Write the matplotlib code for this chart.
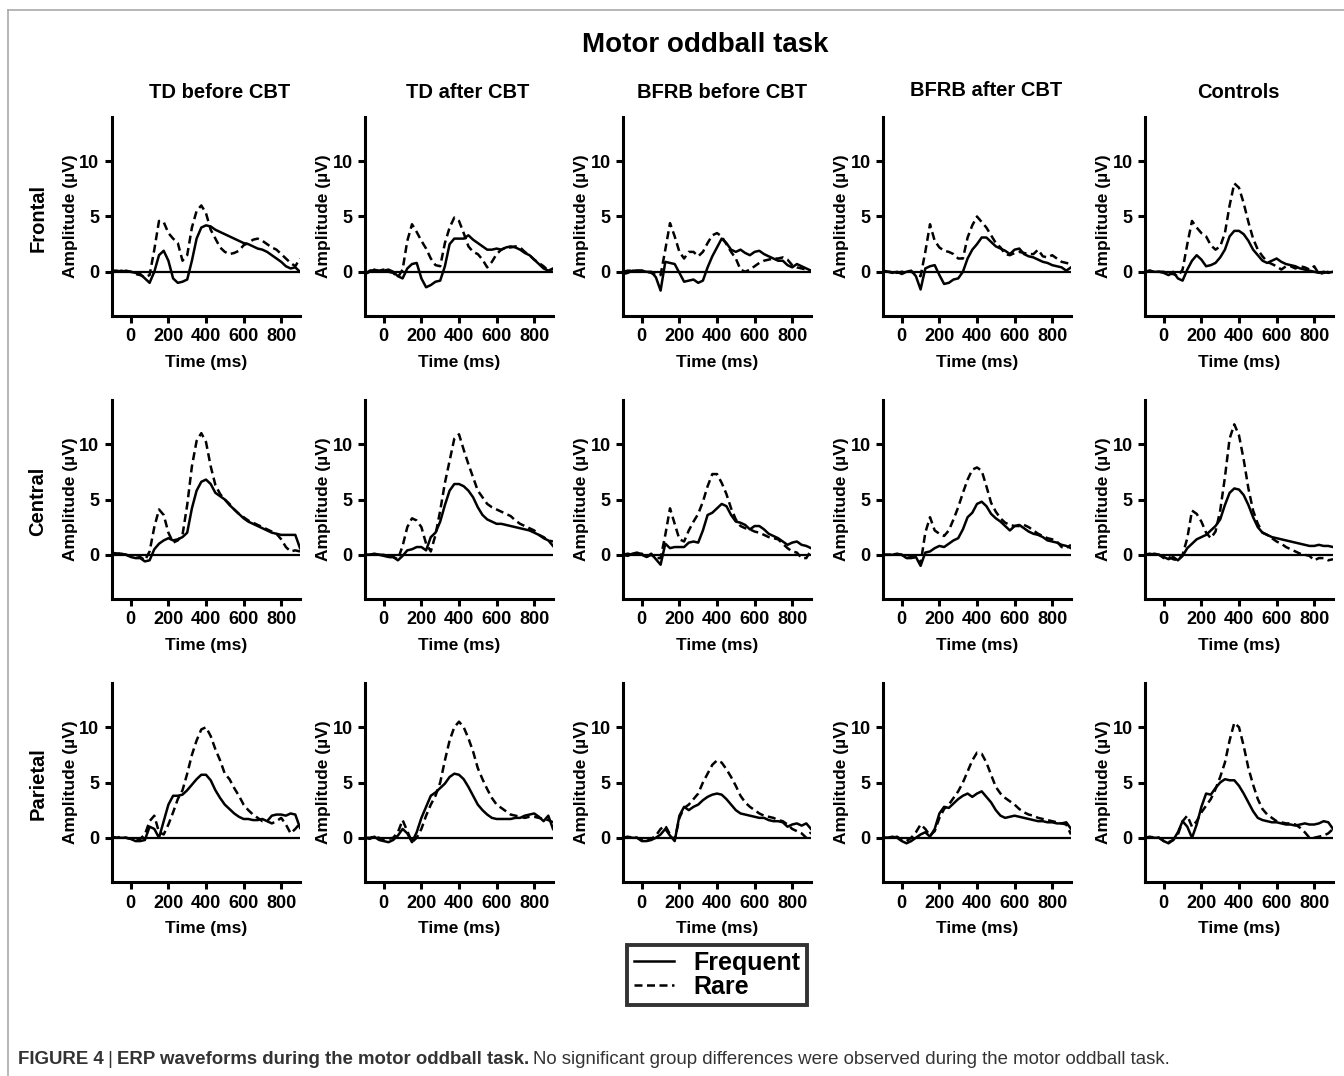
import numpy as np
import matplotlib
matplotlib.use('Agg')
import matplotlib.pyplot as plt
from matplotlib.lines import Line2D

plt.rcParams['font.family'] = ['Liberation Sans', 'DejaVu Sans']

#######################################
#      data        #
#######################################
time_ms = np.arange(-100, 901, 25)

groups = ['TD before CBT', 'TD after CBT', 'BFRB before CBT', 'BFRB after CBT', 'Controls']
sites = ['Frontal', 'Central', 'Parietal']

# frontal
frontal_td_pre_freq = [0.1, 0.0, 0.1, 0.0, 0.0, -0.1, -0.2, -0.6, -1.0, 0.0, 1.5, 1.9, 1.0, -0.6, -1.0, -0.9, -0.7, 1.0, 3.0, 4.0, 4.2, 4.1, 3.8, 3.6, 3.4, 3.2, 3.0, 2.8, 2.6, 2.5, 2.3, 2.1, 2.0, 1.8, 1.5, 1.2, 0.9, 0.5, 0.3, 0.4, 0.0]
frontal_td_pre_rare = [0.1, 0.1, 0.0, 0.1, 0.0, -0.2, -0.3, -0.5, -0.3, 2.0, 4.6, 4.5, 3.5, 3.0, 2.6, 1.0, 1.5, 4.0, 5.5, 6.0, 5.3, 3.8, 3.0, 2.2, 1.8, 1.6, 1.7, 1.9, 2.4, 2.6, 2.9, 3.0, 2.8, 2.5, 2.2, 2.0, 1.6, 1.2, 0.8, 0.5, 1.2]
frontal_td_post_freq = [-0.2, 0.0, 0.2, 0.0, 0.1, 0.2, 0.0, -0.4, -0.6, 0.3, 0.7, 0.8, -0.6, -1.4, -1.2, -0.9, -0.8, 0.5, 2.5, 3.0, 3.0, 3.0, 3.3, 2.9, 2.6, 2.3, 2.0, 2.0, 2.1, 2.0, 2.2, 2.3, 2.2, 2.0, 1.7, 1.5, 1.1, 0.7, 0.3, 0.1, 0.3]
frontal_td_post_rare = [-0.2, 0.1, 0.2, 0.1, 0.2, 0.0, -0.1, -0.5, 0.2, 2.8, 4.3, 3.6, 2.8, 2.1, 1.2, 0.6, 0.5, 2.6, 4.0, 4.9, 4.6, 3.5, 2.3, 1.8, 1.6, 1.1, 0.4, 0.9, 1.6, 2.0, 2.2, 2.2, 2.3, 2.2, 1.8, 1.5, 1.1, 0.8, 0.5, 0.1, 0.0]
frontal_bfrb_pre_freq = [-0.2, -0.1, 0.1, 0.1, 0.1, 0.0, 0.0, -0.5, -1.7, 0.9, 0.8, 0.7, -0.1, -0.9, -0.8, -0.7, -1.0, -0.8, 0.4, 1.4, 2.2, 3.0, 2.6, 2.0, 1.8, 2.0, 1.7, 1.5, 1.8, 1.9, 1.6, 1.4, 1.2, 1.0, 1.0, 0.6, 0.4, 0.7, 0.5, 0.3, 0.1]
frontal_bfrb_pre_rare = [0.0, 0.1, 0.1, 0.1, 0.1, 0.0, -0.1, -0.3, -0.3, 2.0, 4.4, 3.2, 1.8, 1.2, 1.8, 1.8, 1.4, 1.8, 2.6, 3.3, 3.5, 3.2, 2.5, 1.8, 1.2, 0.2, 0.0, 0.2, 0.5, 0.8, 1.0, 1.1, 1.2, 1.2, 1.3, 1.1, 0.6, 0.4, 0.3, 0.2, 0.1]
frontal_bfrb_post_freq = [0.1, 0.0, -0.1, 0.0, -0.2, 0.0, 0.1, -0.4, -1.6, 0.3, 0.5, 0.6, -0.3, -1.1, -1.0, -0.7, -0.6, 0.0, 1.2, 2.0, 2.5, 3.1, 3.1, 2.7, 2.3, 2.1, 1.9, 1.6, 2.0, 2.1, 1.6, 1.4, 1.3, 1.1, 0.9, 0.8, 0.6, 0.5, 0.4, 0.1, 0.4]
frontal_bfrb_post_rare = [0.1, 0.0, 0.0, -0.1, 0.0, 0.0, 0.0, -0.2, -0.4, 1.8, 4.3, 2.8, 2.2, 1.9, 1.8, 1.6, 1.2, 1.2, 3.1, 4.2, 5.0, 4.5, 4.0, 3.3, 2.6, 2.2, 1.6, 1.5, 1.7, 1.8, 1.7, 1.6, 1.6, 2.0, 1.4, 1.3, 1.5, 1.2, 0.9, 0.8, 0.7]
frontal_ctrl_freq = [0.0, 0.1, 0.0, 0.0, -0.1, -0.3, 0.0, -0.6, -0.8, 0.2, 1.0, 1.5, 1.1, 0.5, 0.6, 0.8, 1.3, 2.0, 3.2, 3.7, 3.7, 3.4, 2.8, 2.0, 1.5, 1.0, 0.8, 1.0, 1.2, 0.9, 0.7, 0.6, 0.5, 0.3, 0.2, 0.1, 0.0, -0.1, 0.0, -0.1, 0.0]
frontal_ctrl_rare = [0.0, 0.1, 0.0, 0.0, 0.0, -0.2, -0.2, -0.4, 0.2, 2.5, 4.6, 4.0, 3.5, 3.2, 2.4, 2.0, 2.3, 3.5, 6.0, 8.0, 7.6, 6.2, 4.5, 3.0, 2.0, 1.4, 0.9, 0.7, 0.5, 0.2, 0.5, 0.5, 0.3, 0.5, 0.4, 0.2, 0.5, -0.2, -0.1, 0.0, 0.0]

# central
central_td_pre_freq = [0.2, 0.1, 0.1, 0.0, -0.2, -0.3, -0.3, -0.6, -0.5, 0.5, 1.0, 1.3, 1.5, 1.3, 1.4, 1.6, 2.0, 4.2, 5.8, 6.6, 6.8, 6.4, 5.6, 5.3, 5.0, 4.5, 4.1, 3.7, 3.3, 3.0, 2.8, 2.6, 2.4, 2.2, 2.0, 1.9, 1.8, 1.8, 1.8, 1.8, 0.6]
central_td_pre_rare = [0.1, 0.1, 0.1, 0.0, -0.1, -0.3, -0.2, -0.5, 0.3, 2.5, 4.1, 3.6, 2.0, 1.1, 1.3, 1.8, 4.5, 8.0, 10.3, 11.0, 10.2, 8.0, 6.3, 5.5, 5.0, 4.6, 4.1, 3.7, 3.4, 3.1, 2.9, 2.7, 2.5, 2.3, 2.1, 1.9, 1.4, 0.7, 0.3, 0.4, 0.3]
central_td_post_freq = [0.0, 0.0, 0.1, 0.0, -0.1, -0.2, -0.2, -0.5, -0.1, 0.4, 0.5, 0.7, 0.7, 0.4, 1.6, 2.0, 3.0, 4.5, 5.8, 6.4, 6.4, 6.2, 5.8, 5.2, 4.3, 3.6, 3.2, 3.0, 2.8, 2.8, 2.7, 2.6, 2.5, 2.4, 2.3, 2.2, 2.0, 1.8, 1.5, 1.3, 0.8]
central_td_post_rare = [0.0, 0.0, 0.1, 0.0, 0.0, -0.2, -0.2, -0.4, 0.8, 2.5, 3.3, 3.1, 2.5, 1.0, 0.3, 1.8, 4.0, 6.5, 8.5, 10.5, 10.9, 9.5, 8.2, 7.0, 5.8, 5.2, 4.6, 4.3, 4.1, 3.9, 3.7, 3.5, 3.1, 2.8, 2.6, 2.4, 2.2, 1.8, 1.6, 1.3, 1.2]
central_bfrb_pre_freq = [0.0, -0.1, 0.1, 0.2, 0.0, -0.2, 0.1, -0.4, -0.9, 1.0, 0.6, 0.7, 0.7, 0.7, 1.1, 1.2, 1.1, 2.2, 3.6, 3.8, 4.2, 4.6, 4.4, 3.6, 3.0, 2.9, 2.7, 2.3, 2.6, 2.6, 2.3, 1.9, 1.7, 1.5, 1.2, 0.9, 1.1, 1.2, 0.9, 0.8, 0.6]
central_bfrb_pre_rare = [0.0, 0.1, 0.0, 0.1, 0.1, -0.2, 0.0, -0.3, -0.3, 1.8, 4.2, 2.8, 1.4, 1.2, 2.2, 3.0, 3.7, 4.8, 6.2, 7.3, 7.3, 6.5, 5.5, 4.2, 3.2, 2.6, 2.4, 2.3, 2.1, 2.0, 1.8, 1.6, 1.5, 1.4, 1.0, 0.6, 0.3, 0.2, -0.3, -0.3, 0.4]
central_bfrb_post_freq = [0.0, 0.0, 0.0, 0.1, 0.0, -0.3, -0.3, -0.2, -1.0, 0.2, 0.3, 0.6, 0.8, 0.7, 1.0, 1.3, 1.5, 2.3, 3.4, 3.8, 4.6, 4.8, 4.4, 3.7, 3.3, 3.0, 2.6, 2.2, 2.6, 2.7, 2.4, 2.1, 1.9, 1.8, 1.6, 1.3, 1.2, 1.1, 0.9, 0.8, 0.6]
central_bfrb_post_rare = [0.0, 0.0, 0.0, 0.0, 0.0, -0.3, -0.2, -0.3, -0.8, 2.0, 3.4, 2.2, 1.9, 1.7, 2.2, 3.2, 4.3, 5.6, 6.8, 7.7, 7.9, 7.6, 6.2, 4.7, 3.9, 3.3, 2.9, 2.7, 2.6, 2.6, 2.7, 2.5, 2.2, 1.9, 1.7, 1.5, 1.4, 1.2, 0.7, 0.6, 0.9]
central_ctrl_freq = [0.1, 0.0, 0.1, 0.0, -0.2, -0.4, -0.2, -0.5, -0.1, 0.6, 1.0, 1.4, 1.6, 1.8, 2.2, 2.6, 3.2, 4.5, 5.6, 6.0, 5.9, 5.4, 4.5, 3.4, 2.5, 2.0, 1.8, 1.6, 1.5, 1.4, 1.3, 1.2, 1.1, 1.0, 0.9, 0.8, 0.8, 0.9, 0.8, 0.8, 0.7]
central_ctrl_rare = [0.0, 0.1, 0.0, 0.0, -0.3, -0.2, -0.4, -0.5, 0.0, 1.5, 4.0, 3.7, 3.0, 2.0, 1.5, 2.1, 4.0, 7.0, 10.5, 11.8, 10.8, 8.6, 6.0, 4.0, 2.8, 2.0, 1.8, 1.5, 1.2, 1.0, 0.7, 0.5, 0.3, 0.1, 0.0, -0.1, -0.5, -0.3, -0.3, -0.5, -0.4]

# parietal
parietal_td_pre_freq = [0.1, 0.0, 0.0, 0.0, -0.1, -0.3, -0.3, -0.2, 1.0, 0.8, 0.0, 1.5, 3.0, 3.8, 3.8, 3.9, 4.3, 4.8, 5.3, 5.7, 5.7, 5.2, 4.3, 3.6, 3.0, 2.6, 2.2, 1.9, 1.7, 1.7, 1.6, 1.6, 1.7, 1.5, 2.0, 2.1, 2.1, 2.0, 2.2, 2.1, 0.9]
parietal_td_pre_rare = [0.0, 0.0, 0.1, 0.0, -0.1, -0.2, -0.1, 0.3, 1.5, 2.0, 0.5, 0.3, 1.2, 2.3, 3.5, 4.3, 5.8, 7.5, 8.8, 9.8, 10.0, 9.2, 8.0, 7.0, 5.8, 5.3, 4.5, 3.8, 3.0, 2.5, 2.1, 1.8, 1.5, 1.5, 1.3, 1.5, 1.8, 1.2, 0.4, 0.8, 1.3]
parietal_td_post_freq = [0.0, -0.1, 0.1, -0.2, -0.3, -0.4, -0.2, 0.2, 0.8, 0.4, -0.4, 0.5, 1.8, 2.8, 3.8, 4.1, 4.5, 4.9, 5.5, 5.8, 5.7, 5.3, 4.6, 3.8, 3.0, 2.5, 2.1, 1.8, 1.7, 1.7, 1.7, 1.7, 1.8, 1.8, 2.0, 2.1, 2.2, 1.9, 1.5, 2.0, 0.8]
parietal_td_post_rare = [0.0, 0.0, 0.1, 0.0, -0.2, -0.1, 0.0, 0.5, 1.6, 0.6, -0.4, 0.0, 0.8, 2.0, 3.0, 3.8, 5.0, 7.0, 8.8, 10.0, 10.5, 10.0, 9.0, 7.8, 6.3, 5.3, 4.4, 3.6, 3.0, 2.7, 2.4, 2.1, 2.0, 1.9, 1.8, 1.9, 1.9, 1.8, 1.7, 1.6, 1.4]
parietal_bfrb_pre_freq = [0.0, 0.1, 0.0, 0.0, -0.3, -0.3, -0.2, 0.0, 0.3, 0.8, 0.2, -0.3, 2.0, 2.8, 2.5, 2.8, 3.0, 3.4, 3.7, 3.9, 4.0, 3.9, 3.5, 3.0, 2.5, 2.2, 2.1, 2.0, 1.9, 1.8, 1.8, 1.6, 1.5, 1.5, 1.4, 1.0, 1.2, 1.3, 1.1, 1.3, 0.8]
parietal_bfrb_pre_rare = [0.0, 0.0, 0.1, 0.0, -0.2, -0.3, -0.1, 0.2, 0.8, 1.1, 0.3, -0.2, 1.8, 2.7, 3.0, 3.5, 4.0, 5.0, 5.8, 6.6, 7.0, 6.8, 6.2, 5.5, 4.7, 3.8, 3.2, 2.8, 2.5, 2.2, 2.0, 1.9, 1.8, 1.6, 1.5, 1.2, 0.8, 0.6, 0.4, 0.0, 0.5]
parietal_bfrb_post_freq = [0.0, 0.0, 0.1, 0.0, -0.3, -0.5, -0.3, 0.0, 0.3, 0.5, 0.1, 0.8, 2.2, 2.8, 2.7, 3.1, 3.5, 3.8, 4.0, 3.7, 4.0, 4.2, 3.7, 3.2, 2.5, 2.0, 1.8, 1.9, 2.0, 1.9, 1.8, 1.7, 1.6, 1.5, 1.5, 1.4, 1.4, 1.3, 1.3, 1.4, 0.8]
parietal_bfrb_post_rare = [0.0, 0.0, 0.0, 0.1, -0.2, -0.3, 0.0, 0.5, 1.2, 0.8, 0.2, 0.6, 1.8, 2.6, 3.0, 3.6, 4.2, 5.0, 6.0, 7.0, 7.7, 7.6, 6.8, 5.7, 4.6, 4.0, 3.6, 3.3, 3.0, 2.6, 2.3, 2.1, 2.0, 1.8, 1.7, 1.6, 1.5, 1.4, 1.3, 1.2, 0.3]
parietal_ctrl_freq = [0.0, 0.1, 0.0, 0.0, -0.3, -0.5, -0.2, 0.5, 1.5, 1.0, 0.0, 1.2, 2.8, 4.0, 3.9, 4.5, 5.0, 5.3, 5.2, 5.2, 4.7, 4.0, 3.2, 2.4, 1.8, 1.6, 1.5, 1.4, 1.4, 1.3, 1.2, 1.2, 1.1, 1.2, 1.3, 1.2, 1.2, 1.3, 1.5, 1.4, 0.8]
parietal_ctrl_rare = [0.0, 0.0, 0.1, 0.0, -0.3, -0.4, -0.2, 0.3, 1.5, 2.0, 1.0, 1.5, 2.3, 2.9, 3.5, 4.4, 5.5, 6.8, 8.8, 10.4, 10.0, 8.3, 6.3, 4.8, 3.5, 2.6, 2.1, 1.8, 1.5, 1.4, 1.3, 1.3, 1.2, 0.9, 0.5, 0.0, 0.0, 0.1, 0.2, 0.4, 0.8]

frequent = [
    [frontal_td_pre_freq, frontal_td_post_freq, frontal_bfrb_pre_freq, frontal_bfrb_post_freq, frontal_ctrl_freq],
    [central_td_pre_freq, central_td_post_freq, central_bfrb_pre_freq, central_bfrb_post_freq, central_ctrl_freq],
    [parietal_td_pre_freq, parietal_td_post_freq, parietal_bfrb_pre_freq, parietal_bfrb_post_freq, parietal_ctrl_freq],
]
rare = [
    [frontal_td_pre_rare, frontal_td_post_rare, frontal_bfrb_pre_rare, frontal_bfrb_post_rare, frontal_ctrl_rare],
    [central_td_pre_rare, central_td_post_rare, central_bfrb_pre_rare, central_bfrb_post_rare, central_ctrl_rare],
    [parietal_td_pre_rare, parietal_td_post_rare, parietal_bfrb_pre_rare, parietal_bfrb_post_rare, parietal_ctrl_rare],
]

#######################################
#      layout (pixels)                #
#######################################
W, H = 1344, 1076
col_left = [112, 365, 623, 883, 1145]
row_top = [117, 400, 683]
ax_w, ax_h = 188, 199
title_xy = [(220, 93), (468, 93), (722, 93), (986, 90), (1238, 93)]

fig = plt.figure(figsize=(W / 100, H / 100), dpi=100)

def fx(px):
    return px / W

def fy(py):
    return 1 - py / H

###############################
#     panels                  #
###############################
for r in range(3):
    for c in range(5):
        ax = fig.add_axes([fx(col_left[c]), fy(row_top[r] + ax_h), ax_w / W, ax_h / H])
        ax.plot(time_ms, frequent[r][c], color='black', lw=1.8, solid_joinstyle='round')
        ax.plot(time_ms, rare[r][c], color='black', lw=1.8, dashes=(3.2, 1.8))
        ax.axhline(0, color='black', lw=1.6)
        ax.set_xlim(-100, 900)
        ax.set_ylim(-4, 14)
        ax.set_xticks([0, 200, 400, 600, 800])
        ax.set_yticks([0, 5, 10])
        ax.spines['top'].set_visible(False)
        ax.spines['right'].set_visible(False)
        ax.spines['left'].set_linewidth(2.2)
        ax.spines['bottom'].set_linewidth(2.2)
        ax.tick_params(width=2.2, length=5, labelsize=13, pad=4)
        for lab in ax.get_xticklabels() + ax.get_yticklabels():
            lab.set_fontweight('bold')
        ax.set_xlabel('Time (ms)', fontsize=12.5, fontweight='bold', labelpad=7)
        ax.set_ylabel('Amplitude (µV)', fontsize=12.5, fontweight='bold', labelpad=1)
        if r == 0:
            fig.text(fx(title_xy[c][0]), fy(title_xy[c][1]), groups[c], ha='center', va='center',
                     fontsize=14.5, fontweight='bold')
    fig.text(fx(38), fy(row_top[r] + 101), sites[r], rotation=90, ha='center', va='center',
             fontsize=14.5, fontweight='bold')

fig.text(fx(705), fy(45), 'Motor oddball task', ha='center', va='center', fontsize=20, fontweight='bold')

###############################
#     legend                  #
###############################
handles = [Line2D([], [], color='black', lw=1.8),
           Line2D([], [], color='black', lw=1.8, dashes=(3.2, 1.8))]
leg = fig.legend(handles, ['Frequent', 'Rare'], loc='center', bbox_to_anchor=(fx(717), fy(975)),
                 frameon=True, fancybox=False, prop={'weight': 'bold', 'size': 18},
                 handlelength=1.6, labelspacing=0.0, borderpad=0.25, handletextpad=0.8,
                 borderaxespad=0)
leg.get_frame().set_edgecolor('black')
leg.get_frame().set_linewidth(2.8)

###############################
#     border and caption      #
###############################
fig.add_artist(Line2D([fx(8), fx(8)], [fy(10), 0], color='#aaaaaa', lw=1.2))
fig.add_artist(Line2D([fx(8), 1], [fy(10), fy(10)], color='#aaaaaa', lw=1.2))

fig.canvas.draw()
rend = fig.canvas.get_renderer()
cap_y = fy(1060)
cap_font = ['Liberation Sans Narrow', 'Liberation Sans']
cap_size = 13.4
t1 = fig.text(fx(18), cap_y, 'FIGURE 4', fontsize=cap_size, fontweight='bold', color='#333333', va='center',
              family=cap_font)
x_next = fig.transFigure.inverted().transform(t1.get_window_extent(rend))[1][0]
t2 = fig.text(x_next + fx(4), cap_y, '|', fontsize=cap_size + 0.5, color='#333333', va='center', family=cap_font)
x_next = fig.transFigure.inverted().transform(t2.get_window_extent(rend))[1][0]
t3 = fig.text(x_next + fx(4), cap_y, 'ERP waveforms during the motor oddball task.', fontsize=cap_size,
              fontweight='bold', color='#333333', va='center', family=cap_font)
x_next = fig.transFigure.inverted().transform(t3.get_window_extent(rend))[1][0]
fig.text(x_next + fx(4), cap_y, 'No significant group differences were observed during the motor oddball task.',
         fontsize=cap_size, color='#333333', va='center', family=cap_font)

fig.savefig('out.png', dpi=100)
